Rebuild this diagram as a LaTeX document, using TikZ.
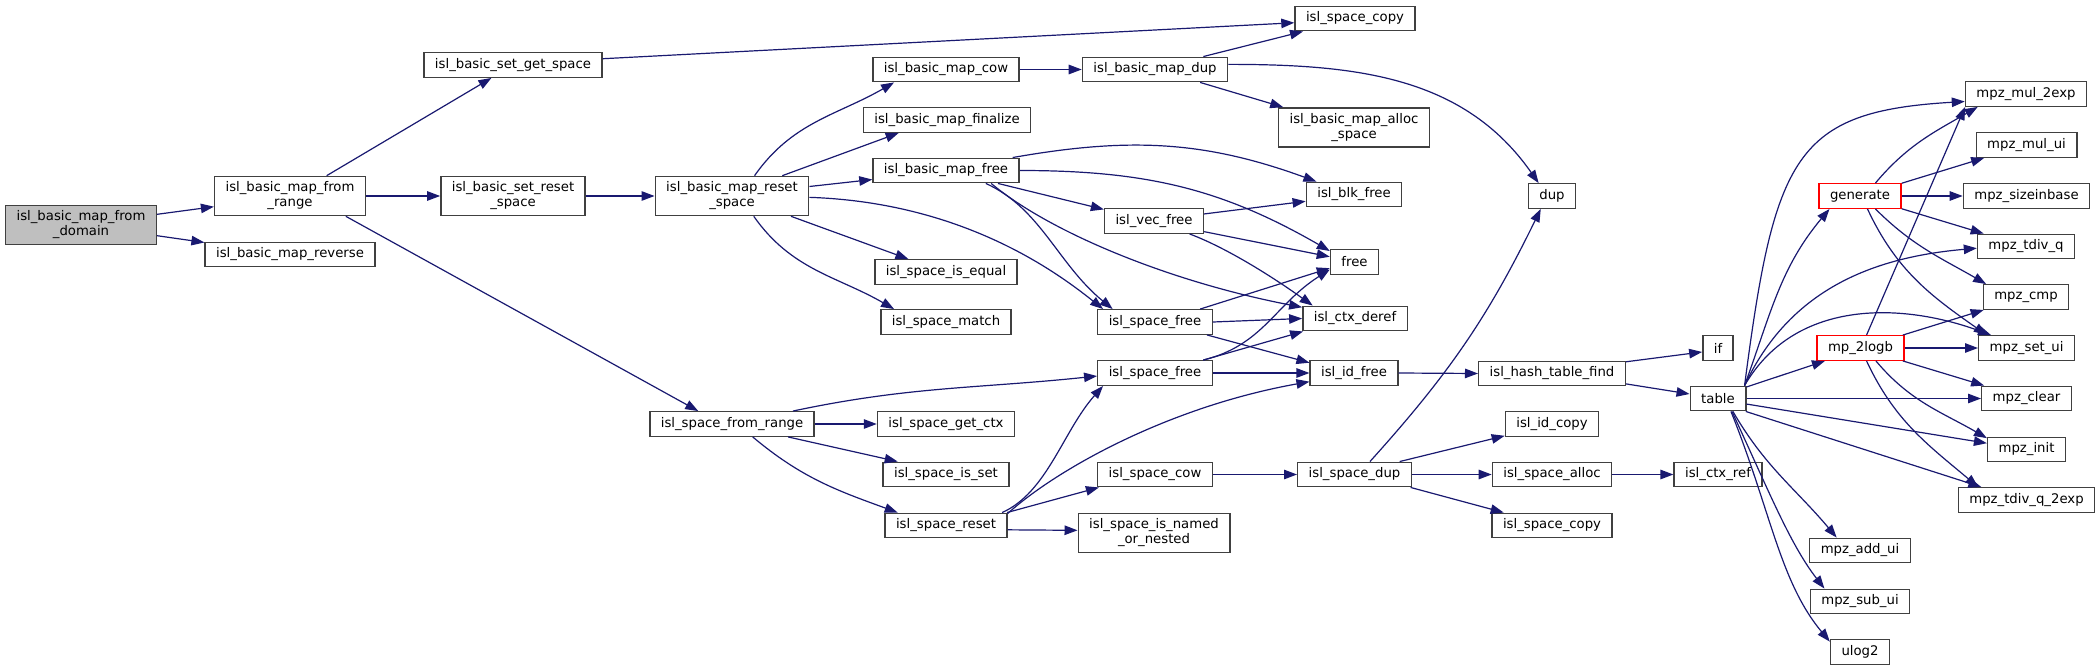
\documentclass[tikz,border=0pt]{standalone}
\usepackage{fontspec}
\setmainfont{DejaVu Sans}
\usepackage{tikz}
\usetikzlibrary{arrows.meta}
\definecolor{edgeblue}{HTML}{191970}
\definecolor{rootgray}{HTML}{BFBFBF}
\definecolor{boxline}{HTML}{404040}

\begin{document}
\begin{tikzpicture}[
    x = 1pt, y = 1pt,
    font        = \fontsize{13.25}{15}\selectfont,
    fn/.style   = {draw=boxline, line width=1.4pt, fill=white,
                   minimum height=24.5pt, inner xsep=11pt, inner ysep=2pt,
                   align=center},
    fn2/.style  = {fn, minimum height=39.2pt},
    root/.style = {fn2, fill=rootgray},
    trunc/.style= {fn, draw=red},
    arr/.style  = {-{Triangle[length=13pt,width=9.5pt]}, edgeblue, line width=1.2pt},
  ]
  \useasboundingbox (0,0) rectangle (2100,-671);

  \node[root] (dom) at (81,-225) {isl\_basic\_map\_from\\\_domain};
  \node[fn2] (frng) at (290,-196) {isl\_basic\_map\_from\\\_range};
  \node[fn] (rev) at (290,-254.5) {isl\_basic\_map\_reverse};
  \node[fn] (sgs) at (513,-65) {isl\_basic\_set\_get\_space};
  \node[fn2] (srs) at (513,-196) {isl\_basic\_set\_reset\\\_space};
  \node[fn2] (mrs) at (732,-196) {isl\_basic\_map\_reset\\\_space};
  \node[fn] (sfr) at (732,-424) {isl\_space\_from\_range};
  \node[fn] (mcow) at (946,-69.5) {isl\_basic\_map\_cow};
  \node[fn] (mfin) at (947,-120) {isl\_basic\_map\_finalize};
  \node[fn] (mfree) at (946,-170.5) {isl\_basic\_map\_free};
  \node[fn] (seq) at (946,-272) {isl\_space\_is\_equal};
  \node[fn] (smatch) at (946,-322) {isl\_space\_match};
  \node[fn] (sgctx) at (946,-424) {isl\_space\_get\_ctx};
  \node[fn] (sisset) at (946,-474.5) {isl\_space\_is\_set};
  \node[fn] (sreset) at (946,-525.5) {isl\_space\_reset};
  \node[fn] (mdup) at (1155,-69.5) {isl\_basic\_map\_dup};
  \node[fn] (vfree) at (1154,-221) {isl\_vec\_free};
  \node[fn] (sfreeA) at (1155,-322) {isl\_space\_free};
  \node[fn] (sfreeB) at (1155,-373) {isl\_space\_free};
  \node[fn] (scow) at (1155,-474.5) {isl\_space\_cow};
  \node[fn2] (snamed) at (1154,-533) {isl\_space\_is\_named\\\_or\_nested};
  \node[fn] (cpyA) at (1355,-18.5) {isl\_space\_copy};
  \node[fn2] (malloc) at (1354,-127.5) {isl\_basic\_map\_alloc\\\_space};
  \node[fn] (blk) at (1354,-194.5) {isl\_blk\_free};
  \node[fn] (free) at (1354.5,-262) {free};
  \node[fn] (deref) at (1355,-318.5) {isl\_ctx\_deref};
  \node[fn] (idfree) at (1354,-373) {isl\_id\_free};
  \node[fn] (sdup) at (1354.5,-474.5) {isl\_space\_dup};
  \node[fn] (dup) at (1552,-196) {dup};
  \node[fn] (htf) at (1552,-373.5) {isl\_hash\_table\_find};
  \node[fn] (idcopy) at (1552,-424) {isl\_id\_copy};
  \node[fn] (salloc) at (1552,-474.5) {isl\_space\_alloc};
  \node[fn] (cpyB) at (1552,-525.5) {isl\_space\_copy};
  \node[fn] (nif) at (1718,-348) {if};
  \node[fn] (table) at (1718,-398.5) {table};
  \node[fn] (ctxref) at (1718,-474.5) {isl\_ctx\_ref};
  \node[trunc] (gen) at (1860,-196) {generate};
  \node[trunc] (logb) at (1860.5,-348) {mp\_2logb};
  \node[fn] (addui) at (1860,-550.5) {mpz\_add\_ui};
  \node[fn] (subui) at (1860,-601.5) {mpz\_sub\_ui};
  \node[fn] (ulog) at (1860,-652) {ulog2};
  \node[fn] (mul2) at (2026,-94) {mpz\_mul\_2exp};
  \node[fn] (mului) at (2026.5,-145) {mpz\_mul\_ui};
  \node[fn] (sizeb) at (2026.5,-196) {mpz\_sizeinbase};
  \node[fn] (tdivq) at (2026,-246.5) {mpz\_tdiv\_q};
  \node[fn] (cmp) at (2026,-297) {mpz\_cmp};
  \node[fn] (setui) at (2026.6,-348) {mpz\_set\_ui};
  \node[fn] (clear) at (2026.5,-398.5) {mpz\_clear};
  \node[fn] (init) at (2026.5,-449.5) {mpz\_init};
  \node[fn] (tdiv2) at (2026.5,-500) {mpz\_tdiv\_q\_2exp};

  \draw[arr] (dom.8) -- (frng.188);
  \draw[arr] (dom.352) -- (rev.172);
  \draw[arr] (frng.29) -- (sgs.211);
  \draw[arr] (frng.east) -- (srs.west);
  \draw[arr] (frng.340) -- (sfr.159);
  \draw[arr] (sgs.4) -- (cpyA.184);
  \draw[arr] (srs.east) -- (mrs.west);
  \draw[arr] (mrs.42) to[out=55, in=210] (mcow.194);
  \draw[arr] (mrs.22) -- (mfin.195);
  \draw[arr] (mrs.7) -- (mfree.187);
  \draw[arr] (mrs.-1) .. controls +(150,-5) and +(-50,40) .. (sfreeA.166);
  \draw[arr] (mrs.341) -- (seq.161);
  \draw[arr] (mrs.317) to[out=-55, in=150] (smatch.166);
  \draw[arr] (mcow.east) -- (mdup.west);
  \draw[arr] (mdup.15) -- (cpyA.194);
  \draw[arr] (mdup.344) -- (malloc.164);
  \draw[arr] (mdup.4) to[out=0, in=125] (dup.136);
  \draw[arr] (mfree.11) to[out=10, in=160] (blk.161);
  \draw[arr] (mfree.east) to[out=0, in=150] (free.156);
  \draw[arr] (mfree.346) -- (vfree.167);
  \draw[arr] (mfree.342) .. controls +(55,-25) and +(-55,45) .. (sfreeA.163);
  \draw[arr] (mfree.344) .. controls +(60,-50) and +(-130,25) .. (deref.168);
  \draw[arr] (vfree.8) -- (blk.188);
  \draw[arr] (vfree.348) -- (free.168);
  \draw[arr] (vfree.340) .. controls +(40,-15) and +(-35,25) .. (deref.163);
  \draw[arr] (sfreeA.16) -- (free.194);
  \draw[arr] (sfreeA.east) -- (deref.west);
  \draw[arr] (sfreeA.346) -- (idfree.167);
  \draw[arr] (sfreeB.15) .. controls +(60,15) and +(-55,-35) .. (free.197);
  \draw[arr] (sfreeB.15) -- (deref.194);
  \draw[arr] (sfreeB.east) -- (idfree.west);
  \draw[arr] (sfr.12) to[out=12, in=186] (sfreeB.183);
  \draw[arr] (sfr.east) -- (sgctx.west);
  \draw[arr] (sfr.347) -- (sisset.165);
  \draw[arr] (sfr.328) to[out=-40, in=160] (sreset.165);
  \draw[arr] (sreset.13) .. controls +(45,20) and +(-40,-45) .. (sfreeB.194);
  \draw[arr] (sreset.11) .. controls +(50,45) and +(-140,-25) .. (idfree.191);
  \draw[arr] (sreset.12) -- (scow.193);
  \draw[arr] (sreset.356) -- (snamed.178);
  \draw[arr] (scow.east) -- (sdup.west);
  \draw[arr] (sdup.40) to[bend right=8] (dup.229);
  \draw[arr] (sdup.16) -- (idcopy.194);
  \draw[arr] (sdup.east) -- (salloc.west);
  \draw[arr] (sdup.347) -- (cpyB.165);
  \draw[arr] (salloc.east) -- (ctxref.west);
  \draw[arr] (idfree.east) -- (htf.west);
  \draw[arr] (htf.9) -- (nif.194);
  \draw[arr] (htf.352) -- (table.171);
  \draw[arr] (table.26) to[out=70, in=230] (gen.203);
  \draw[arr] (table.26) .. controls +(30,230) and +(-170,-10) .. (mul2.187);
  \draw[arr] (table.26) to[out=65, in=185] (tdivq.182);
  \draw[arr] (table.26) to[out=60, in=160] (setui.160);
  \draw[arr] (table.22) -- (logb.200);
  \draw[arr] (table.east) -- (clear.west);
  \draw[arr] (table.349) -- (init.171);
  \draw[arr] (table.335) -- (tdiv2.164);
  \draw[arr] (table.319) to[out=-60, in=130] (addui.151);
  \draw[arr] (table.317) .. controls +(35,-75) and +(-35,45) .. (subui.160);
  \draw[arr] (table.315) .. controls +(40,-100) and +(-50,60) .. (ulog.161);
  \draw[arr] (gen.40) to[out=50, in=210] (mul2.195);
  \draw[arr] (gen.17) -- (mului.197);
  \draw[arr] (gen.east) -- (sizeb.west);
  \draw[arr] (gen.343) -- (tdivq.163);
  \draw[arr] (gen.320) to[out=-45, in=150] (cmp.162);
  \draw[arr] (gen.300) to[out=-65, in=145] (setui.162);
  \draw[arr] (logb.65) -- (mul2.192);
  \draw[arr] (logb.17) -- (cmp.197);
  \draw[arr] (logb.east) -- (setui.west);
  \draw[arr] (logb.343) -- (clear.163);
  \draw[arr] (logb.320) to[out=-50, in=150] (init.164);
  \draw[arr] (logb.295) to[out=-65, in=140] (tdiv2.165);
\end{tikzpicture}
\end{document}
